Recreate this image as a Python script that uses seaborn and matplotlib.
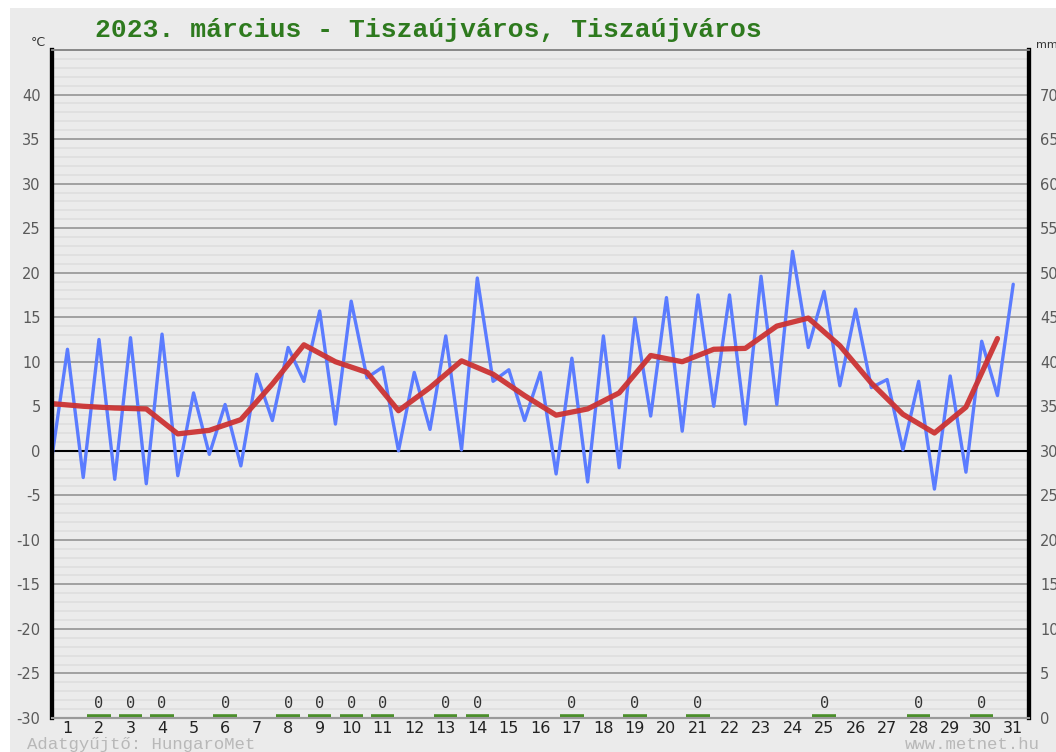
import numpy as np
import pandas as pd
import matplotlib
matplotlib.use("Agg")
import matplotlib.pyplot as plt
from matplotlib.patches import Rectangle
import seaborn as sns

# --- data ---
TITLE = "2023. március - Tiszaújváros, Tiszaújváros"
DAYS = list(range(1, 32))

# half-daily temperature (alternating night / afternoon), °C
TEMP_HALFDAY = [
    -0.9, 11.4, -3.0, 12.5, -3.2, 12.7, -3.7, 13.1, -2.8, 6.5,
    -0.4, 5.2, -1.7, 8.6, 3.4, 11.6, 7.8, 15.7, 3.0, 16.8,
    8.2, 9.4, 0.0, 8.8, 2.4, 12.9, 0.1, 19.4, 7.8, 9.1,
    3.4, 8.8, -2.6, 10.4, -3.5, 12.9, -1.9, 14.9, 3.9, 17.2,
    2.2, 17.5, 5.0, 17.5, 3.0, 19.6, 5.2, 22.4, 11.6, 17.9,
    7.3, 15.9, 7.1, 8.0, 0.1, 7.8, -4.3, 8.4, -2.4, 12.3,
    6.2, 18.7,
]

# daily mean temperature, °C
TEMP_MEAN = [
    5.3, 5.0, 4.8, 4.7, 1.9, 2.3, 3.5, 7.5, 11.9, 10.0,
    8.8, 4.5, 7.1, 10.1, 8.6, 6.2, 4.0, 4.7, 6.5, 10.7,
    10.0, 11.4, 11.5, 14.0, 14.9, 11.8, 7.6, 4.1, 2.0, 4.9,
    12.6,
]

# days with a (zero) precipitation record, mm
PRECIP_DAYS = [2, 3, 4, 6, 8, 9, 10, 11, 13, 14, 17, 19, 21, 25, 28, 30]
PRECIP_MM = [0] * len(PRECIP_DAYS)

Y_MIN, Y_MAX = -30, 45
MM_OFFSET = 30  # 0 mm sits on -30 °C

df_half = pd.DataFrame({"t": np.arange(len(TEMP_HALFDAY)) * 0.5, "temp": TEMP_HALFDAY})
df_mean = pd.DataFrame({"t": np.arange(len(TEMP_MEAN), dtype=float), "temp": TEMP_MEAN})

# --- style ---
sns.set_theme(style="white")
plt.rcParams["font.family"] = ["DejaVu Sans"]

PANEL = "#ebebeb"
fig = plt.figure(figsize=(10.56, 7.52), dpi=100, facecolor="white")
fig.patches.append(Rectangle((10 / 1056, 0), 1, 1 - 8 / 752, transform=fig.transFigure,
                             facecolor=PANEL, edgecolor="none", zorder=-10))

ax = fig.add_axes([51.7 / 1056, 1 - 718 / 752, (1029 - 51.7) / 1056, (718 - 50) / 752])
ax.set_facecolor(PANEL)

# grid
for v in range(Y_MIN + 1, Y_MAX):
    if v == 0:
        continue
    if v % 5 == 0:
        ax.axhline(v, color="#a0a0a0", lw=1.4, zorder=1)
    else:
        ax.axhline(v, color="#dedede", lw=1.2, zorder=0.5)
ax.axhline(0, color="black", lw=1.5, zorder=2)

# temperature lines
sns.lineplot(data=df_half, x="t", y="temp", color="#5b7cff", lw=2.4,
             ax=ax, zorder=3, sort=False)
sns.lineplot(data=df_mean, x="t", y="temp", color="#cc3333", lw=3.8,
             ax=ax, zorder=4, sort=False, alpha=0.95)

# precipitation (zero-height bars + value labels)
for d, mm in zip(PRECIP_DAYS, PRECIP_MM):
    xc = d - 0.5
    ax.hlines(Y_MIN + mm + 0.2, xc - 0.37, xc + 0.37, color="#4b8f2b", lw=2.6, zorder=5)
    ax.text(xc, Y_MIN + 1.6, f"{mm}", ha="center", va="center",
            fontsize=11, color="#333333", family="DejaVu Sans Mono", zorder=6)

ax.set_xlim(0, 31)
ax.set_ylim(Y_MIN, Y_MAX)
ax.set_xlabel("")
ax.set_ylabel("")

ax.set_xticks([d - 0.5 for d in DAYS])
ax.set_xticklabels([str(d) for d in DAYS], fontsize=11.5, color="#222222")
yt = list(range(Y_MIN, Y_MAX, 5))
ax.set_yticks(yt)
ax.set_yticklabels([str(v) for v in yt], fontsize=10.5, color="#5a5a5a")
ax.tick_params(axis="both", length=0)
ax.tick_params(axis="x", pad=2)
ax.tick_params(axis="y", pad=8)

ax2 = ax.twinx()
ax2.set_ylim(Y_MIN + MM_OFFSET, Y_MAX + MM_OFFSET)
mt = list(range(0, 75, 5))
ax2.set_yticks(mt)
ax2.set_yticklabels([str(v) for v in mt], fontsize=10.5, color="#5a5a5a")
ax2.tick_params(axis="y", length=0, pad=8)
ax2.grid(False)

for a in (ax, ax2):
    a.spines["left"].set_color("black")
    a.spines["left"].set_linewidth(3)
    a.spines["right"].set_color("black")
    a.spines["right"].set_linewidth(3)
    a.spines["top"].set_color("#8a8a8a")
    a.spines["top"].set_linewidth(1.3)
    a.spines["bottom"].set_color("#9a9a9a")
    a.spines["bottom"].set_linewidth(1.5)

# texts
fig.text(428 / 1056, 1 - 30 / 752, TITLE, ha="center", va="center", fontsize=19,
         family="Liberation Mono", weight="bold", color="#2e7a1e")
fig.text(38 / 1056, 1 - 43 / 752, "°C", ha="center", va="center", fontsize=9, color="#333333")
fig.text(1036 / 1056, 1 - 45 / 752, "mm", ha="left", va="center", fontsize=8, color="#333333")
fig.text(27 / 1056, 1 - 737 / 752, "Adatgyűjtő: HungaroMet", ha="left", va="top",
         fontsize=12.5, family="Liberation Mono", color="#b8b8b8")
fig.text(1040 / 1056, 1 - 737 / 752, "www.metnet.hu", ha="right", va="top",
         fontsize=12.5, family="Liberation Mono", color="#b8b8b8")

fig.savefig("out.png", dpi=100, facecolor="white")
